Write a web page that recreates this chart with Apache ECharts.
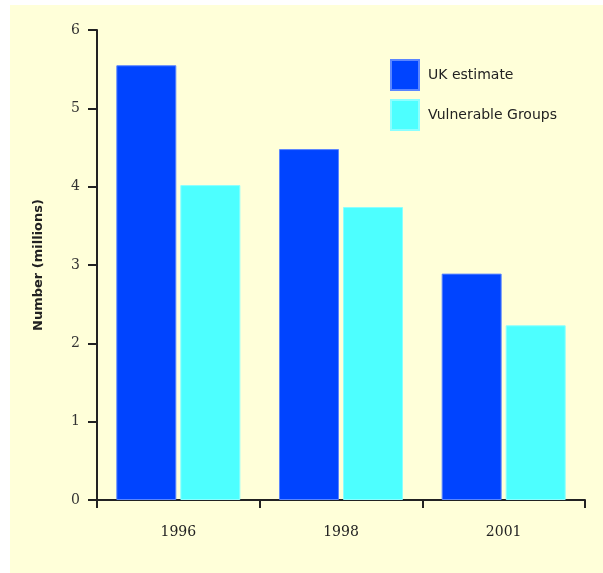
<!DOCTYPE html>
<html>
<head>
<meta charset="utf-8">
<script src="https://cdn.jsdelivr.net/npm/echarts@6/dist/echarts.min.js"></script>
<style>
html,body{margin:0;padding:0;background:#ffffff;}
#wrap{position:absolute;left:10px;top:5px;width:593px;height:568px;background:#FFFFD9;}
#chart{position:absolute;left:0;top:0;width:603px;height:573px;}
</style>
</head>
<body>
<div id="wrap"></div>
<div id="chart"></div>
<script>
const categories = ['1996', '1998', '2001'];
const seriesNames = ['UK estimate', 'Vulnerable Groups'];
const ukEstimate = [5.55, 4.48, 2.89];
const vulnerableGroups = [4.02, 3.74, 2.23];
const yTicks = [0, 1, 2, 3, 4, 5, 6];

const chart = echarts.init(document.getElementById('chart'), null, {renderer: 'canvas'});
const axisColor = '#222222';
chart.setOption({
  backgroundColor: 'transparent',
  animation: false,
  grid: {left: 97, right: 18, top: 30, bottom: 73, containLabel: false},
  legend: {
    orient: 'vertical',
    left: 385,
    top: 54,
    itemWidth: 28,
    itemHeight: 30,
    itemGap: 8,
    icon: 'rect',
    data: seriesNames,
    textStyle: {fontFamily: 'DejaVu Sans', fontSize: 14, color: '#222', padding: [0, 0, 0, 4]}
  },
  xAxis: {
    type: 'category',
    data: categories,
    axisLine: {lineStyle: {color: axisColor, width: 2}},
    axisTick: {show: true, length: 8, lineStyle: {color: axisColor, width: 2}, alignWithLabel: false},
    axisLabel: {margin: 25, fontFamily: 'DejaVu Serif', fontSize: 14, color: '#222'},
    splitLine: {show: false}
  },
  yAxis: {
    type: 'value',
    min: yTicks[0],
    max: yTicks[yTicks.length - 1],
    interval: 1,
    name: 'Number (millions)',
    nameLocation: 'middle',
    nameGap: 52,
    nameTextStyle: {fontFamily: 'DejaVu Sans', fontSize: 13, fontWeight: 'bold', color: '#222'},
    axisLine: {show: true, lineStyle: {color: axisColor, width: 2}},
    axisTick: {show: true, length: 9, lineStyle: {color: axisColor, width: 2}},
    axisLabel: {margin: 17, fontFamily: 'DejaVu Serif', fontSize: 14, color: '#333'},
    splitLine: {show: false}
  },
  series: [
    {
      name: seriesNames[0],
      type: 'bar',
      data: ukEstimate,
      barWidth: 60,
      barGap: '6.7%',
      itemStyle: {color: '#0044FF', borderColor: '#5b86ff', borderWidth: 1}
    },
    {
      name: seriesNames[1],
      type: 'bar',
      data: vulnerableGroups,
      barWidth: 60,
      barGap: '6.7%',
      itemStyle: {color: '#4DFFFF', borderColor: '#8affff', borderWidth: 1}
    }
  ]
});
</script>
</body>
</html>
